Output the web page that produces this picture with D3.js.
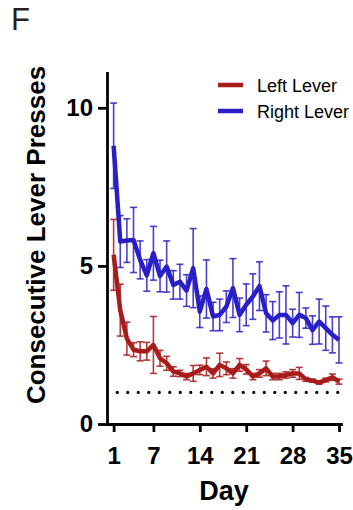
<!DOCTYPE html>
<html>
<head>
<meta charset="utf-8">
<script src="https://cdn.jsdelivr.net/npm/d3@7"></script>
<style>
  body { margin: 0; background: #fff; }
  svg { display: block; }
</style>
</head>
<body>
<div id="chart"></div>
<script>
// days of training
var days = [1, 2, 3, 4, 5, 6, 7, 8, 9, 10, 11, 12, 13, 14, 15, 16, 17, 18,
  19, 20, 21, 22, 23, 24, 25, 26, 27, 28, 29, 30, 31, 32, 33, 34, 35];

// mean consecutive presses, left lever
var leftMean = [5.35, 3.6, 2.7, 2.35, 2.3, 2.3, 2.5, 2.08, 1.92, 1.66, 1.6, 1.5,
  1.6, 1.71, 1.81, 1.6, 1.87, 1.76, 1.6, 1.87, 1.73, 1.5, 1.6, 1.76, 1.5, 1.5,
  1.55, 1.6, 1.6, 1.41, 1.37, 1.31, 1.39, 1.48, 1.34];
var leftSem = [1.12, 0.82, 0.52, 0.22, 0.3, 0.28, 0.9, 0.25, 0.22, 0.15, 0.1, 0.1,
  0.25, 0.15, 0.28, 0.15, 0.37, 0.2, 0.15, 0.2, 0.15, 0.1, 0.12, 0.23, 0.1, 0.1,
  0.1, 0.12, 0.19, 0.06, 0.05, 0.05, 0.06, 0.1, 0.08];

// mean consecutive presses, right lever
var rightMean = [8.8, 5.77, 5.8, 5.82, 5.19, 4.7, 5.4, 4.68, 4.98, 4.4, 4.5, 4.22,
  4.93, 3.55, 4.27, 3.4, 3.45, 3.71, 4.3, 3.45, 3.77, 4.03, 4.36, 3.5, 3.27, 3.45,
  3.45, 3.19, 3.45, 3.35, 2.97, 3.24, 3.03, 2.82, 2.66];
var rightSem = [1.35, 0.82, 0.69, 1.03, 0.6, 0.5, 0.85, 0.5, 0.81, 0.45, 0.55, 0.5,
  1.25, 0.5, 0.92, 0.45, 0.5, 0.5, 0.93, 0.53, 0.66, 0.72, 0.77, 0.59, 0.6, 0.73,
  0.92, 0.44, 0.71, 0.32, 0.45, 0.71, 0.7, 0.57, 0.73];

var xTicks = [1, 7, 14, 21, 28, 35];
var yTicks = [0, 5, 10];
var chanceLevel = 1;

var red = "#a81b1b", blue = "#2a1fc6";

var width = 353, height = 510;
var svg = d3.select("#chart").append("svg")
  .attr("width", width)
  .attr("height", height)
  .style("font-family", "'Liberation Sans', Arial, sans-serif");

var x = d3.scaleLinear().domain([0, 35.3]).range([107, 341]);
var y = d3.scaleLinear().domain([0, 11.1]).range([424, 73]);

// panel letter
svg.append("text")
  .attr("x", 11).attr("y", 30)
  .style("font-size", "31px")
  .attr("fill", "#2b1d17")
  .text("F");

// dotted reference line at 1
svg.append("line")
  .attr("x1", x(1.55)).attr("x2", x(35.1))
  .attr("y1", y(chanceLevel)).attr("y2", y(chanceLevel))
  .attr("stroke", "#000")
  .attr("stroke-width", 3.2)
  .attr("stroke-linecap", "round")
  .attr("stroke-dasharray", "0,10.5");

function drawSeries(mean, sem, color) {
  var rows = days.map(function(d, i) { return { day: d, m: mean[i], e: sem[i] }; });
  var g = svg.append("g");
  var bars = g.selectAll(".eb").data(rows).enter().append("g")
    .attr("stroke", color)
    .attr("stroke-width", 1.6)
    .attr("stroke-opacity", 0.85);
  bars.append("line")
    .attr("x1", function(d) { return x(d.day); })
    .attr("x2", function(d) { return x(d.day); })
    .attr("y1", function(d) { return y(d.m - d.e); })
    .attr("y2", function(d) { return y(d.m + d.e); });
  [1, -1].forEach(function(s) {
    bars.append("line")
      .attr("x1", function(d) { return x(d.day) - 3.5; })
      .attr("x2", function(d) { return x(d.day) + 3.5; })
      .attr("y1", function(d) { return y(d.m + s * d.e); })
      .attr("y2", function(d) { return y(d.m + s * d.e); });
  });
  g.append("path")
    .datum(rows)
    .attr("fill", "none")
    .attr("stroke", color)
    .attr("stroke-width", 4.5)
    .attr("stroke-linejoin", "round")
    .attr("d", d3.line()
      .x(function(d) { return x(d.day); })
      .y(function(d) { return y(d.m); }));
}

drawSeries(rightMean, rightSem, blue);
drawSeries(leftMean, leftSem, red);

// axes
var yAxis = svg.append("g")
  .attr("transform", "translate(107,0)")
  .call(d3.axisLeft(y).tickValues(yTicks).tickSize(9).tickSizeOuter(0).tickPadding(5));
var xAxis = svg.append("g")
  .attr("transform", "translate(0,424)")
  .call(d3.axisBottom(x).tickValues(xTicks).tickSize(8).tickSizeOuter(0).tickPadding(15));

[xAxis, yAxis].forEach(function(a) {
  a.select(".domain").attr("stroke-width", 2.8).attr("stroke-linecap", "square");
  a.selectAll(".tick line").attr("stroke-width", 2.8);
  a.selectAll(".tick text")
    .attr("fill", "#000")
    .style("font-size", "24px")
    .style("font-weight", "bold")
    .style("font-family", "'Liberation Sans', Arial, sans-serif");
});

// axis titles
svg.append("text")
  .attr("x", 224).attr("y", 500)
  .attr("text-anchor", "middle")
  .style("font-size", "27px")
  .style("font-weight", "bold")
  .text("Day");

svg.append("text")
  .attr("transform", "translate(45,235) rotate(-90)")
  .attr("text-anchor", "middle")
  .style("font-size", "26px")
  .style("font-weight", "bold")
  .text("Consecutive Lever Presses");

// legend
var legendItems = [
  { label: "Left Lever", color: red },
  { label: "Right Lever", color: blue }
];
var legend = svg.selectAll(".legend").data(legendItems).enter().append("g")
  .attr("transform", function(d, i) { return "translate(218," + (85 + i * 26) + ")"; });
legend.append("line")
  .attr("x1", 0).attr("x2", 25)
  .attr("stroke", function(d) { return d.color; })
  .attr("stroke-width", 4.5);
legend.append("text")
  .attr("x", 39).attr("y", 7)
  .style("font-size", "18px")
  .text(function(d) { return d.label; });
</script>
</body>
</html>
